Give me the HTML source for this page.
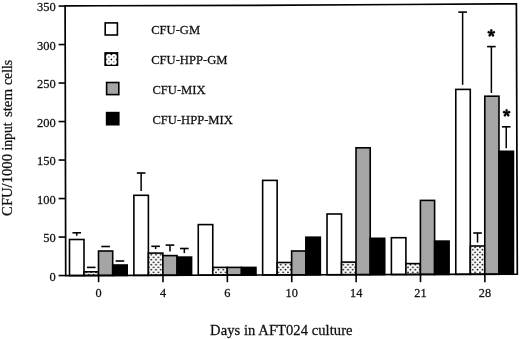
<!DOCTYPE html><html><head><meta charset="utf-8"><style>
html,body{margin:0;padding:0;background:#fff;width:520px;height:339px;overflow:hidden}
svg{display:block;position:absolute;left:0;top:0}
text{font-family:"Liberation Serif",serif;fill:#111;stroke:#111;stroke-width:0.25px}
svg{filter:grayscale(1)}
</style></head><body>
<svg width="520" height="339" viewBox="0 0 520 339">
<defs><pattern id="dots" patternUnits="userSpaceOnUse" width="4.8" height="5.0" x="0" y="0"><rect width="4.8" height="5.0" fill="#fafafa"/><circle cx="2.4" cy="4.7" r="0.85" fill="#111"/><circle cx="0.0" cy="2.3" r="0.85" fill="#111"/><circle cx="4.8" cy="2.3" r="0.85" fill="#111"/><circle cx="2.4" cy="-0.3" r="0.85" fill="#111"/></pattern></defs>
<rect x="69.50" y="239.50" width="14.50" height="36.07" fill="#ffffff" stroke="#000" stroke-width="1.6"/>
<rect x="84.00" y="271.80" width="14.50" height="3.72" fill="url(#dots)" stroke="#000" stroke-width="1.6"/>
<rect x="98.50" y="251.00" width="14.20" height="24.48" fill="#a5a5a5" stroke="#000" stroke-width="1.6"/>
<rect x="112.70" y="265.00" width="14.50" height="10.43" fill="#000000" stroke="#000" stroke-width="1.6"/>
<rect x="133.88" y="195.30" width="14.50" height="80.07" fill="#ffffff" stroke="#000" stroke-width="1.6"/>
<rect x="148.38" y="253.10" width="14.50" height="22.22" fill="url(#dots)" stroke="#000" stroke-width="1.6"/>
<rect x="162.88" y="255.60" width="14.20" height="19.68" fill="#a5a5a5" stroke="#000" stroke-width="1.6"/>
<rect x="177.08" y="257.10" width="14.50" height="18.13" fill="#000000" stroke="#000" stroke-width="1.6"/>
<rect x="198.26" y="224.60" width="14.50" height="50.57" fill="#ffffff" stroke="#000" stroke-width="1.6"/>
<rect x="212.76" y="267.40" width="14.50" height="7.72" fill="url(#dots)" stroke="#000" stroke-width="1.6"/>
<rect x="227.26" y="267.40" width="14.20" height="7.68" fill="#a5a5a5" stroke="#000" stroke-width="1.6"/>
<rect x="241.46" y="267.40" width="14.50" height="7.63" fill="#000000" stroke="#000" stroke-width="1.6"/>
<rect x="262.64" y="180.40" width="14.50" height="94.57" fill="#ffffff" stroke="#000" stroke-width="1.6"/>
<rect x="277.14" y="262.50" width="14.50" height="12.42" fill="url(#dots)" stroke="#000" stroke-width="1.6"/>
<rect x="291.64" y="251.00" width="14.20" height="23.88" fill="#a5a5a5" stroke="#000" stroke-width="1.6"/>
<rect x="305.84" y="237.20" width="14.50" height="37.63" fill="#000000" stroke="#000" stroke-width="1.6"/>
<rect x="327.02" y="214.00" width="14.50" height="60.77" fill="#ffffff" stroke="#000" stroke-width="1.6"/>
<rect x="341.52" y="262.10" width="14.50" height="12.62" fill="url(#dots)" stroke="#000" stroke-width="1.6"/>
<rect x="356.02" y="147.80" width="14.20" height="126.88" fill="#a5a5a5" stroke="#000" stroke-width="1.6"/>
<rect x="370.22" y="238.30" width="14.50" height="36.33" fill="#000000" stroke="#000" stroke-width="1.6"/>
<rect x="391.40" y="237.70" width="14.50" height="36.87" fill="#ffffff" stroke="#000" stroke-width="1.6"/>
<rect x="405.90" y="263.60" width="14.50" height="10.92" fill="url(#dots)" stroke="#000" stroke-width="1.6"/>
<rect x="420.40" y="200.40" width="14.20" height="74.08" fill="#a5a5a5" stroke="#000" stroke-width="1.6"/>
<rect x="434.60" y="241.10" width="14.50" height="33.33" fill="#000000" stroke="#000" stroke-width="1.6"/>
<rect x="455.78" y="89.40" width="14.50" height="184.97" fill="#ffffff" stroke="#000" stroke-width="1.6"/>
<rect x="470.28" y="246.00" width="14.50" height="28.32" fill="url(#dots)" stroke="#000" stroke-width="1.6"/>
<rect x="484.78" y="96.20" width="14.20" height="178.08" fill="#a5a5a5" stroke="#000" stroke-width="1.6"/>
<rect x="498.98" y="151.30" width="14.50" height="122.93" fill="#000000" stroke="#000" stroke-width="1.6"/>
<line x1="72.45" y1="232.8" x2="81.05" y2="232.8" stroke="#000" stroke-width="1.6"/>
<line x1="76.75" y1="232.8" x2="76.75" y2="235.8" stroke="#000" stroke-width="1.5"/>
<line x1="86.95" y1="267.4" x2="95.55" y2="267.4" stroke="#000" stroke-width="1.6"/>
<line x1="101.30" y1="246.5" x2="109.90" y2="246.5" stroke="#000" stroke-width="1.6"/>
<line x1="115.65" y1="261.0" x2="124.25" y2="261.0" stroke="#000" stroke-width="1.6"/>
<line x1="136.83" y1="173.0" x2="145.43" y2="173.0" stroke="#000" stroke-width="1.6"/>
<line x1="141.13" y1="173.0" x2="141.13" y2="191.0" stroke="#000" stroke-width="1.5"/>
<line x1="151.33" y1="246.3" x2="159.93" y2="246.3" stroke="#000" stroke-width="1.6"/>
<line x1="155.63" y1="246.3" x2="155.63" y2="249.0" stroke="#000" stroke-width="1.5"/>
<line x1="165.68" y1="245.1" x2="174.28" y2="245.1" stroke="#000" stroke-width="1.6"/>
<line x1="169.98" y1="245.1" x2="169.98" y2="251.4" stroke="#000" stroke-width="1.5"/>
<line x1="180.03" y1="248.5" x2="188.63" y2="248.5" stroke="#000" stroke-width="1.6"/>
<line x1="184.33" y1="248.5" x2="184.33" y2="253.1" stroke="#000" stroke-width="1.5"/>
<line x1="458.33" y1="12.1" x2="466.93" y2="12.1" stroke="#000" stroke-width="1.6"/>
<line x1="462.63" y1="12.1" x2="462.63" y2="84.8" stroke="#000" stroke-width="1.5"/>
<line x1="473.23" y1="233.0" x2="481.83" y2="233.0" stroke="#000" stroke-width="1.6"/>
<line x1="477.53" y1="233.0" x2="477.53" y2="242.6" stroke="#000" stroke-width="1.5"/>
<line x1="487.08" y1="46.6" x2="495.68" y2="46.6" stroke="#000" stroke-width="1.6"/>
<line x1="491.38" y1="46.6" x2="491.38" y2="93.0" stroke="#000" stroke-width="1.5"/>
<line x1="501.93" y1="126.8" x2="510.53" y2="126.8" stroke="#000" stroke-width="1.6"/>
<line x1="506.23" y1="126.8" x2="506.23" y2="148.2" stroke="#000" stroke-width="1.5"/>
<polygon points="65.1,5.9 100,5.75 250,5.4 400,4.5 500,3.85 516.4,3.75 517.3,274.2 65.7,275.6" fill="none" stroke="#000" stroke-width="1.7" stroke-linejoin="miter"/>
<line x1="58.6" y1="275.55" x2="65.70" y2="275.55" stroke="#000" stroke-width="1.6"/>
<text transform="translate(55.7,280.60) scale(1,1.08)" font-size="12.5" text-anchor="end">0</text>
<line x1="58.6" y1="237.05" x2="65.62" y2="237.05" stroke="#000" stroke-width="1.6"/>
<text transform="translate(55.7,242.10) scale(1,1.08)" font-size="12.5" text-anchor="end">50</text>
<line x1="58.6" y1="198.55" x2="65.53" y2="198.55" stroke="#000" stroke-width="1.6"/>
<text transform="translate(55.7,203.60) scale(1,1.08)" font-size="12.5" text-anchor="end">100</text>
<line x1="58.6" y1="160.05" x2="65.45" y2="160.05" stroke="#000" stroke-width="1.6"/>
<text transform="translate(55.7,165.10) scale(1,1.08)" font-size="12.5" text-anchor="end">150</text>
<line x1="58.6" y1="121.55" x2="65.36" y2="121.55" stroke="#000" stroke-width="1.6"/>
<text transform="translate(55.7,126.60) scale(1,1.08)" font-size="12.5" text-anchor="end">200</text>
<line x1="58.6" y1="83.05" x2="65.28" y2="83.05" stroke="#000" stroke-width="1.6"/>
<text transform="translate(55.7,88.10) scale(1,1.08)" font-size="12.5" text-anchor="end">250</text>
<line x1="58.6" y1="44.55" x2="65.19" y2="44.55" stroke="#000" stroke-width="1.6"/>
<text transform="translate(55.7,49.60) scale(1,1.08)" font-size="12.5" text-anchor="end">300</text>
<line x1="58.6" y1="6.05" x2="65.11" y2="6.05" stroke="#000" stroke-width="1.6"/>
<text transform="translate(55.7,11.10) scale(1,1.08)" font-size="12.5" text-anchor="end">350</text>
<line x1="98.60" y1="275.50" x2="98.60" y2="282.2" stroke="#000" stroke-width="1.6"/>
<text transform="translate(98.60,296.9) scale(1,1.08)" font-size="12.3" text-anchor="middle">0</text>
<line x1="162.98" y1="275.30" x2="162.98" y2="282.2" stroke="#000" stroke-width="1.6"/>
<text transform="translate(162.98,296.9) scale(1,1.08)" font-size="12.3" text-anchor="middle">4</text>
<line x1="227.36" y1="275.10" x2="227.36" y2="282.2" stroke="#000" stroke-width="1.6"/>
<text transform="translate(227.36,296.9) scale(1,1.08)" font-size="12.3" text-anchor="middle">6</text>
<line x1="291.74" y1="274.90" x2="291.74" y2="282.2" stroke="#000" stroke-width="1.6"/>
<text transform="translate(291.74,296.9) scale(1,1.08)" font-size="12.3" text-anchor="middle">10</text>
<line x1="356.12" y1="274.70" x2="356.12" y2="282.2" stroke="#000" stroke-width="1.6"/>
<text transform="translate(356.12,296.9) scale(1,1.08)" font-size="12.3" text-anchor="middle">14</text>
<line x1="420.50" y1="274.50" x2="420.50" y2="282.2" stroke="#000" stroke-width="1.6"/>
<text transform="translate(420.50,296.9) scale(1,1.08)" font-size="12.3" text-anchor="middle">21</text>
<line x1="484.88" y1="274.30" x2="484.88" y2="282.2" stroke="#000" stroke-width="1.6"/>
<text transform="translate(484.88,296.9) scale(1,1.08)" font-size="12.3" text-anchor="middle">28</text>
<rect x="105.2" y="22.9" width="12.2" height="12.1" fill="#fff" stroke="#000" stroke-width="1.6"/>
<text transform="translate(151.2,34.1) scale(1,1.06)" font-size="12.6">CFU-GM</text>
<rect x="105.2" y="53.0" width="12.2" height="12.1" fill="#222" stroke="#000" stroke-width="1.8"/>
<circle cx="108.9" cy="56.9" r="2.85" fill="#fff"/>
<circle cx="108.9" cy="61.9" r="2.85" fill="#fff"/>
<circle cx="113.9" cy="56.9" r="2.85" fill="#fff"/>
<circle cx="113.9" cy="61.9" r="2.85" fill="#fff"/>
<circle cx="108.9" cy="56.9" r="0.8" fill="#777"/>
<circle cx="108.9" cy="61.9" r="0.8" fill="#777"/>
<circle cx="113.9" cy="56.9" r="0.8" fill="#777"/>
<circle cx="113.9" cy="61.9" r="0.8" fill="#777"/>
<circle cx="111.4" cy="54.4" r="0.75" fill="#000"/>
<circle cx="111.4" cy="59.4" r="0.75" fill="#000"/>
<text transform="translate(151.2,64.0) scale(1,1.06)" font-size="12.6">CFU-HPP-GM</text>
<rect x="106.6" y="82.5" width="12.2" height="12.1" fill="#a5a5a5" stroke="#000" stroke-width="1.6"/>
<text transform="translate(152.4,93.9) scale(1,1.06)" font-size="12.6">CFU-MIX</text>
<rect x="106.6" y="112.6" width="12.2" height="12.1" fill="#000" stroke="#000" stroke-width="1.6"/>
<text transform="translate(152.4,124.0) scale(1,1.06)" font-size="12.6">CFU-HPP-MIX</text>
<path d="M491.70,33.10L492.45,30.40A1.15,1.15 0 1 0 490.15,30.40L490.90,33.10ZM491.42,33.48L494.22,33.36A1.15,1.15 0 1 0 493.51,31.17L491.18,32.72ZM490.98,33.34L491.96,35.96A1.15,1.15 0 1 0 493.82,34.61L491.62,32.86ZM490.98,32.86L488.78,34.61A1.15,1.15 0 1 0 490.64,35.96L491.62,33.34ZM491.42,32.72L489.09,31.17A1.15,1.15 0 1 0 488.38,33.36L491.18,33.48Z" fill="#000" stroke="#000" stroke-width="0.3"/>
<path d="M507.00,113.00L507.75,110.30A1.15,1.15 0 1 0 505.45,110.30L506.20,113.00ZM506.72,113.38L509.52,113.26A1.15,1.15 0 1 0 508.81,111.07L506.48,112.62ZM506.28,113.24L507.26,115.86A1.15,1.15 0 1 0 509.12,114.51L506.92,112.76ZM506.28,112.76L504.08,114.51A1.15,1.15 0 1 0 505.94,115.86L506.92,113.24ZM506.72,112.62L504.39,111.07A1.15,1.15 0 1 0 503.68,113.26L506.48,113.38Z" fill="#000" stroke="#000" stroke-width="0.3"/>
<text transform="translate(210.1,334.6) scale(1,1.05)" font-size="14.6" letter-spacing="0.05">Days in AFT024 culture</text>
<g transform="translate(12.4,215.6) rotate(-90)" font-size="13.8"><text x="-0.3" y="0" textLength="61.9" lengthAdjust="spacingAndGlyphs">CFU/1000</text><text x="65.0" y="0" textLength="28.3" lengthAdjust="spacingAndGlyphs">input</text><text x="98.5" y="0" textLength="28.2" lengthAdjust="spacingAndGlyphs">stem</text><text x="130.6" y="0" textLength="25.2" lengthAdjust="spacingAndGlyphs">cells</text></g>
</svg></body></html>
